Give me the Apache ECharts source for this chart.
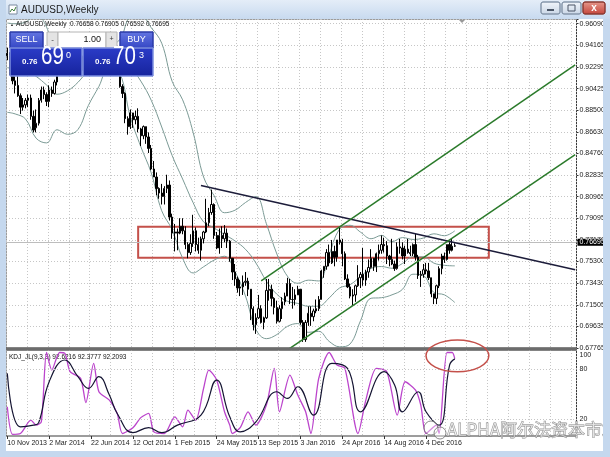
<!DOCTYPE html>
<html><head><meta charset="utf-8">
<script src="https://cdn.jsdelivr.net/npm/echarts@6/dist/echarts.min.js"></script>
<style>html,body{margin:0;padding:0;background:#fff}#c{width:610px;height:457px}</style>
</head><body><div id="c"></div>
<script>
// ---------- categories (weekly bars, incl. empty future weeks on the right) ----------
const monthNames = ['Jan','Feb','Mar','Apr','May','Jun','Jul','Aug','Sep','Oct','Nov','Dec'];
const firstWeek = Date.UTC(2013, 10, 10);   // 10 Nov 2013
const weekCount = 218;
const categories = [];
for (let i = 0; i < weekCount; i++) {
  const d = new Date(firstWeek + i * 7 * 864e5);
  categories.push(d.getUTCDate() + ' ' + monthNames[d.getUTCMonth()] + ' ' + d.getUTCFullYear());
}

// ---------- weekly AUDUSD bars: [open, high, low, close] ----------
const bars = [
[0.9350,0.9400,0.9290,0.9330],[0.9330,0.9360,0.9160,0.9190],[0.9190,0.9210,0.9080,0.9110],[0.9110,0.9150,0.9000,0.9070],
[0.9070,0.9170,0.8970,0.8980],[0.8980,0.9000,0.8820,0.8880],[0.8880,0.8960,0.8850,0.8900],[0.8900,0.8960,0.8870,0.8940],
[0.8940,0.8990,0.8880,0.8960],[0.8960,0.8990,0.8770,0.8800],[0.8800,0.8850,0.8660,0.8680],[0.8700,0.8860,0.8660,0.8740],
[0.8740,0.8960,0.8720,0.8940],[0.8940,0.9060,0.8920,0.9030],[0.9030,0.9060,0.8950,0.8990],[0.8990,0.9010,0.8890,0.8930],
[0.8930,0.9070,0.8880,0.9030],[0.9030,0.9060,0.8970,0.9000],[0.9000,0.9120,0.8990,0.9100],[0.9100,0.9280,0.9070,0.9260],
[0.9260,0.9320,0.9200,0.9280],[0.9280,0.9460,0.9270,0.9400],[0.9400,0.9430,0.9320,0.9330],[0.9330,0.9390,0.9270,0.9280],
[0.9280,0.9350,0.9230,0.9290],[0.9290,0.9400,0.9270,0.9370],[0.9370,0.9380,0.9260,0.9290],[0.9290,0.9300,0.9200,0.9240],
[0.9240,0.9310,0.9220,0.9300],[0.9300,0.9330,0.9200,0.9320],[0.9320,0.9440,0.9290,0.9340],[0.9340,0.9400,0.9320,0.9390],
[0.9390,0.9450,0.9350,0.9420],[0.9420,0.9500,0.9330,0.9380],[0.9380,0.9400,0.9330,0.9350],[0.9350,0.9420,0.9320,0.9400],
[0.9400,0.9440,0.9360,0.9380],[0.9380,0.9390,0.9290,0.9310],[0.9310,0.9330,0.9240,0.9310],[0.9310,0.9350,0.9280,0.9320],
[0.9320,0.9350,0.9280,0.9300],[0.9300,0.9370,0.9290,0.9340],[0.9340,0.9400,0.9300,0.9370],[0.9370,0.9380,0.9050,0.9060],
[0.9060,0.9080,0.8960,0.9000],[0.9000,0.9010,0.8740,0.8780],[0.8780,0.8800,0.8640,0.8710],[0.8710,0.8860,0.8690,0.8830],
[0.8830,0.8830,0.8700,0.8770],[0.8770,0.8850,0.8730,0.8800],[0.8800,0.8870,0.8660,0.8690],[0.8690,0.8700,0.8540,0.8630],
[0.8630,0.8720,0.8600,0.8710],[0.8710,0.8710,0.8560,0.8620],[0.8620,0.8660,0.8480,0.8520],[0.8520,0.8550,0.8330,0.8340],
[0.8340,0.8410,0.8270,0.8270],[0.8270,0.8310,0.8110,0.8170],[0.8170,0.8180,0.8080,0.8130],[0.8130,0.8210,0.8030,0.8100],
[0.8100,0.8190,0.8030,0.8170],[0.8170,0.8290,0.8130,0.8200],[0.8200,0.8240,0.7890,0.7920],[0.7920,0.7950,0.7730,0.7780],
[0.7780,0.7860,0.7620,0.7790],[0.7790,0.7820,0.7630,0.7780],[0.7780,0.7910,0.7770,0.7840],[0.7840,0.7910,0.7770,0.7800],
[0.7800,0.7840,0.7640,0.7680],[0.7680,0.7700,0.7560,0.7610],[0.7610,0.7770,0.7590,0.7690],[0.7690,0.7940,0.7660,0.7800],
[0.7800,0.7830,0.7620,0.7680],[0.7680,0.7740,0.7600,0.7630],[0.7630,0.7750,0.7540,0.7730],[0.7730,0.7800,0.7690,0.7790],
[0.7790,0.8080,0.7780,0.7870],[0.7870,0.8000,0.7840,0.7960],[0.7960,0.8160,0.7940,0.8030],[0.8030,0.8040,0.7730,0.7760],
[0.7760,0.7790,0.7640,0.7650],[0.7650,0.7820,0.7600,0.7760],[0.7760,0.7840,0.7650,0.7730],[0.7730,0.7850,0.7700,0.7780],
[0.7780,0.7820,0.7650,0.7710],[0.7710,0.7720,0.7530,0.7560],[0.7560,0.7560,0.7370,0.7440],[0.7440,0.7510,0.7320,0.7380],
[0.7380,0.7400,0.7260,0.7300],[0.7300,0.7370,0.7230,0.7310],[0.7310,0.7410,0.7240,0.7350],[0.7350,0.7440,0.7320,0.7360],
[0.7360,0.7390,0.7230,0.7290],[0.7290,0.7290,0.7020,0.7120],[0.7120,0.7140,0.6930,0.6980],[0.6980,0.7080,0.6900,0.7040],
[0.7040,0.7240,0.7030,0.7120],[0.7120,0.7150,0.6990,0.7000],[0.7000,0.7050,0.6940,0.7040],[0.7040,0.7380,0.7030,0.7280],
[0.7280,0.7380,0.7190,0.7290],[0.7290,0.7330,0.7140,0.7210],[0.7210,0.7220,0.7070,0.7130],[0.7130,0.7190,0.6990,0.7010],
[0.7010,0.7150,0.7000,0.7120],[0.7120,0.7220,0.7030,0.7180],[0.7180,0.7260,0.7150,0.7230],[0.7230,0.7390,0.7230,0.7340],
[0.7340,0.7380,0.7160,0.7200],[0.7200,0.7310,0.7120,0.7200],[0.7200,0.7290,0.7150,0.7240],[0.7240,0.7320,0.7240,0.7290],
[0.7290,0.7290,0.6980,0.7000],[0.7000,0.7020,0.6830,0.6850],[0.6850,0.7020,0.6830,0.7000],[0.7000,0.7140,0.6970,0.7080],
[0.7080,0.7140,0.6970,0.7050],[0.7050,0.7120,0.7010,0.7100],[0.7100,0.7200,0.7080,0.7120],[0.7120,0.7230,0.7100,0.7200],
[0.7200,0.7460,0.7200,0.7450],[0.7450,0.7490,0.7390,0.7490],[0.7490,0.7640,0.7460,0.7610],[0.7610,0.7680,0.7490,0.7520],
[0.7520,0.7720,0.7510,0.7620],[0.7620,0.7670,0.7490,0.7570],[0.7570,0.7720,0.7530,0.7720],[0.7720,0.7830,0.7680,0.7700],
[0.7700,0.7730,0.7490,0.7600],[0.7600,0.7620,0.7370,0.7380],[0.7380,0.7420,0.7300,0.7310],[0.7310,0.7340,0.7210,0.7230],
[0.7230,0.7290,0.7150,0.7240],[0.7240,0.7330,0.7180,0.7320],[0.7320,0.7500,0.7310,0.7390],[0.7390,0.7440,0.7300,0.7420],
[0.7420,0.7650,0.7320,0.7370],[0.7370,0.7460,0.7320,0.7440],[0.7440,0.7550,0.7390,0.7480],[0.7480,0.7640,0.7470,0.7560],
[0.7560,0.7560,0.7450,0.7490],[0.7490,0.7610,0.7440,0.7600],[0.7600,0.7680,0.7540,0.7630],[0.7630,0.7760,0.7600,0.7680],
[0.7680,0.7740,0.7610,0.7670],[0.7670,0.7710,0.7510,0.7580],[0.7580,0.7590,0.7490,0.7550],[0.7550,0.7730,0.7500,0.7510],
[0.7510,0.7540,0.7450,0.7470],[0.7470,0.7700,0.7460,0.7660],[0.7660,0.7730,0.7600,0.7650],[0.7650,0.7700,0.7550,0.7580],
[0.7580,0.7670,0.7510,0.7640],[0.7640,0.7730,0.7600,0.7610],[0.7610,0.7670,0.7580,0.7600],[0.7600,0.7690,0.7580,0.7680],
[0.7680,0.7775,0.7540,0.7570],[0.7570,0.7590,0.7380,0.7410],[0.7410,0.7450,0.7310,0.7420],[0.7420,0.7510,0.7390,0.7460],
[0.7460,0.7520,0.7420,0.7450],[0.7450,0.7520,0.7370,0.7390],[0.7390,0.7390,0.7220,0.7250],[0.7250,0.7250,0.7160,0.7210],
[0.7210,0.7330,0.7160,0.7320],[0.7320,0.7490,0.7300,0.7470],[0.7470,0.7600,0.7420,0.7580],[0.7580,0.7610,0.7520,0.7550],
[0.7550,0.7680,0.7540,0.7680],[0.7680,0.7700,0.7600,0.7630],[0.7630,0.7730,0.7620,0.76658],[0.76658,0.76905,0.76592,0.76695]
];

// ---------- Bollinger bands: [week index, value] ----------
const bandUpper = [[0,0.9615],[3,0.9609],[7,0.9624],[11,0.9689],[15,0.9580],[19,0.9303],[23,0.9403],[27,0.9509],[31,0.9516],[35,0.9517],[39,0.9433],[43,0.9470],[47,0.9667],[51,0.9680],[55,0.9574],[59,0.9439],[63,0.9105],[67,0.8944],[71,0.8660],[75,0.8270],[79,0.8108],[83,0.7958],[87,0.7980],[91,0.8047],[95,0.8099],[99,0.7862],[103,0.7598],[107,0.7405],[111,0.7342],[115,0.7369],[119,0.7362],[123,0.7594],[127,0.7815],[131,0.7848],[135,0.7788],[139,0.7731],[143,0.7760],[147,0.7705],[151,0.7741],[155,0.7725],[159,0.7737],[163,0.7774],[167,0.7757],[171,0.7800]];
const bandMiddle = [[0,0.9225],[3,0.9215],[7,0.9200],[11,0.9149],[15,0.9074],[19,0.8993],[23,0.9023],[27,0.9097],[31,0.9206],[35,0.9289],[39,0.9335],[43,0.9324],[47,0.9231],[51,0.9108],[55,0.8940],[59,0.8707],[63,0.8457],[67,0.8252],[71,0.8046],[75,0.7878],[79,0.7826],[83,0.7768],[87,0.7712],[91,0.7639],[95,0.7519],[99,0.7360],[103,0.7246],[107,0.7185],[111,0.7166],[115,0.7141],[119,0.7142],[123,0.7214],[127,0.7301],[131,0.7330],[135,0.7402],[139,0.7471],[143,0.7488],[147,0.7473],[151,0.7515],[155,0.7573],[159,0.7573],[163,0.7518],[167,0.7499],[171,0.7494]];
const bandLower = [[0,0.8835],[3,0.8821],[7,0.8776],[11,0.8609],[15,0.8568],[19,0.8683],[23,0.8643],[27,0.8685],[31,0.8896],[35,0.9061],[39,0.9237],[43,0.9178],[47,0.8795],[51,0.8536],[55,0.8306],[59,0.7975],[63,0.7809],[67,0.7560],[71,0.7432],[75,0.7486],[79,0.7544],[83,0.7578],[87,0.7444],[91,0.7231],[95,0.6939],[99,0.6858],[103,0.6894],[107,0.6965],[111,0.6990],[115,0.6913],[119,0.6922],[123,0.6834],[127,0.6787],[131,0.6812],[135,0.7016],[139,0.7211],[143,0.7216],[147,0.7241],[151,0.7289],[155,0.7421],[159,0.7409],[163,0.7262],[167,0.7241],[171,0.7174]];

// ---------- KDJ (lower panel): [week index, value] ----------
const kdjFast = [[0,35],[2,2],[5,3],[9,19],[11,13],[13,17],[15,100],[17,79],[20,100],[22,99],[24,77],[28,69],[30,40],[33,87],[35,53],[39,43],[42,27],[44,3],[48,10],[51,22],[54,27],[56,5],[60,3],[64,23],[67,11],[69,31],[72,19],[75,57],[77,79],[80,67],[83,29],[85,13],[86,3],[89,10],[92,29],[95,13],[99,37],[102,81],[104,29],[108,73],[111,49],[114,29],[116,3],[119,69],[123,100],[126,85],[129,81],[134,3],[137,43],[141,81],[145,77],[149,25],[152,65],[156,55],[158,37],[160,3],[164,13],[165,3],[168,100],[170,100],[171,92.62]];
const kdjSlow = [[0,75],[5,11],[10,13],[12,16],[16,65],[22,91],[27,71],[31,57],[35,71],[39,49],[42,27],[48,4],[54,10],[59,4],[65,13],[74,25],[80,67],[85,23],[89,5],[95,17],[103,53],[107,45],[111,59],[117,25],[124,87],[130,81],[135,29],[144,77],[148,61],[151,29],[157,53],[160,29],[165,13],[169,85],[171,92.38]];
const kdjLevels = [80, 20];

// ---------- annotations (in data units) ----------
const currentPrice = 0.76695;
const resistanceBox = [[50, 0.7836], [184, 0.7565]];
const downTrend = [[74, 0.8196], [217, 0.7460]];
const channelUpper = [[97, 0.7362], [217, 0.9249]];
const channelLower = [[104, 0.6712], [217, 0.8466]];
const ringCenter = [172, 96];
const ringEdge = [160, 115];

// ---------- tick labels ----------
const priceTicks = ['0.67765','0.69635','0.71505','0.73430','0.75300','0.77170','0.79095','0.80965','0.82835','0.84760','0.86630','0.88500','0.90425','0.92295','0.94165','0.96090'];
const kdjTicks = [100, 80, 20];

const priceLow = +priceTicks[0];
const priceStep = (+priceTicks[priceTicks.length - 1] - priceLow) / (priceTicks.length - 1);
const priceHigh = 0.96502;
const lastBar = bars.length - 1;

const dots = {color: '#c6c6c6', type: [1, 2], width: 1};
const every8 = (i) => i % 8 === 0;
const every16 = (i) => i % 16 === 0 && i <= lastBar;
const axisFont = {fontSize: 7, color: '#222', fontFamily: 'Liberation Sans'};

const chart = echarts.init(document.getElementById('c'), null, {renderer: 'canvas'});

const blueBtn = () => new echarts.graphic.LinearGradient(0,0,0,1,[{offset:0,color:'#6476e2'},{offset:1,color:'#3446c4'}]);
const blueBox = () => new echarts.graphic.LinearGradient(0,0,0,1,[{offset:0,color:'#2b3cc8'},{offset:1,color:'#16239c'}]);
const greyBtn = () => new echarts.graphic.LinearGradient(0,0,0,1,[{offset:0,color:'#f2f6fb'},{offset:1,color:'#c9d6e6'}]);

const elements = [
  // window chrome
  {type:'rect', z:100, shape:{x:0,y:0,width:610,height:19}, style:{fill:new echarts.graphic.LinearGradient(0,0,0,1,[{offset:0,color:'#e4edf8'},{offset:1,color:'#c8daef'}])}},
  {type:'rect', z:100, shape:{x:0,y:0,width:6,height:457}, style:{fill:'#c5d8ee'}},
  {type:'rect', z:100, shape:{x:603,y:19,width:7,height:438}, style:{fill:'#c5d8ee'}},
  {type:'rect', z:100, shape:{x:0,y:451,width:610,height:6}, style:{fill:'#c5d8ee'}},
  {type:'rect', z:101, shape:{x:9,y:5,width:8,height:9}, style:{fill:'#fff', stroke:'#7a8aa0', lineWidth:1}},
  {type:'polyline', z:102, shape:{points:[[10,12],[12,9],[14,11],[16,7]]}, style:{stroke:'#3a7a3a', lineWidth:1, fill:null}},
  {type:'text', z:101, style:{x:21, y:10, text:'AUDUSD,Weekly', fontSize:10, fontFamily:'Liberation Sans', fill:'#1b1b1b', verticalAlign:'middle'}},
  {type:'rect', z:101, shape:{x:541,y:2,width:19,height:12,r:2}, style:{fill:greyBtn(), stroke:'#8797ab', lineWidth:1}},
  {type:'rect', z:102, shape:{x:547,y:9,width:7,height:2}, style:{fill:'#4a5566'}},
  {type:'rect', z:101, shape:{x:562,y:2,width:19,height:12,r:2}, style:{fill:greyBtn(), stroke:'#8797ab', lineWidth:1}},
  {type:'rect', z:102, shape:{x:568,y:5,width:7,height:6}, style:{fill:'none', stroke:'#4a5566', lineWidth:1}},
  {type:'rect', z:101, shape:{x:583,y:2,width:22,height:12,r:2}, style:{fill:new echarts.graphic.LinearGradient(0,0,0,1,[{offset:0,color:'#e79a8e'},{offset:1,color:'#c4443a'}]), stroke:'#8b3a33', lineWidth:1}},
  {type:'text', z:102, style:{x:594, y:8.5, text:'x', fontSize:10, fontWeight:'bold', fontFamily:'Liberation Sans', fill:'#fff', align:'center', verticalAlign:'middle'}},
  // chart header line
  {type:'text', z:60, style:{x:10, y:24.5, text:'▲', fontSize:4, fill:'#333', verticalAlign:'middle'}},
  {type:'text', z:60, style:{x:16, y:24.5, text:'AUDUSD,Weekly  0.76658 0.76905 0.76592 0.76695', fontSize:6.5, fontFamily:'Liberation Sans', fill:'#111', verticalAlign:'middle'}},
  {type:'polygon', z:60, shape:{points:[[459,20],[465,20],[462,23]]}, style:{fill:'#999'}},
  // one-click trading panel
  {type:'rect', z:60, shape:{x:10,y:32,width:33,height:16}, style:{fill:blueBtn(), stroke:'#2a3aa8', lineWidth:1}},
  {type:'text', z:61, style:{x:26.5, y:40, text:'SELL', fontSize:9, fontFamily:'Liberation Sans', fill:'#fff', align:'center', verticalAlign:'middle'}},
  {type:'rect', z:60, shape:{x:47,y:32,width:11,height:16}, style:{fill:'#e4e4e4', stroke:'#b4b4b4', lineWidth:1}},
  {type:'text', z:61, style:{x:52.5, y:39.5, text:'-', fontSize:8, fontFamily:'Liberation Sans', fill:'#333', align:'center', verticalAlign:'middle'}},
  {type:'rect', z:60, shape:{x:58,y:32,width:48,height:16}, style:{fill:'#fff', stroke:'#b4b4b4', lineWidth:1}},
  {type:'text', z:61, style:{x:101, y:40, text:'1.00', fontSize:9, fontFamily:'Liberation Sans', fill:'#111', align:'right', verticalAlign:'middle'}},
  {type:'rect', z:60, shape:{x:106,y:32,width:11,height:16}, style:{fill:'#e4e4e4', stroke:'#b4b4b4', lineWidth:1}},
  {type:'text', z:61, style:{x:111.5, y:39.5, text:'+', fontSize:7, fontFamily:'Liberation Sans', fill:'#333', align:'center', verticalAlign:'middle'}},
  {type:'rect', z:60, shape:{x:120,y:32,width:33,height:16}, style:{fill:blueBtn(), stroke:'#2a3aa8', lineWidth:1}},
  {type:'text', z:61, style:{x:136.5, y:40, text:'BUY', fontSize:9, fontFamily:'Liberation Sans', fill:'#fff', align:'center', verticalAlign:'middle'}},
  {type:'rect', z:60, shape:{x:10,y:48,width:72,height:28}, style:{fill:blueBox(), stroke:'#7d8fe0', lineWidth:1}},
  {type:'text', z:61, style:{x:22, y:66, text:'0.76', fontSize:8, fontWeight:'bold', fontFamily:'Liberation Sans', fill:'#fff', verticalAlign:'bottom'}},
  {type:'text', z:61, x:41, y:70, scaleX:0.82, style:{x:0, y:0, text:'69', fontSize:25, fontFamily:'Liberation Sans', fill:'#fff', verticalAlign:'bottom'}},
  {type:'text', z:61, style:{x:66, y:55.5, text:'0', fontSize:9, fontFamily:'Liberation Sans', fill:'#fff', verticalAlign:'middle'}},
  {type:'rect', z:60, shape:{x:83,y:48,width:70,height:28}, style:{fill:blueBox(), stroke:'#7d8fe0', lineWidth:1}},
  {type:'text', z:61, style:{x:95, y:66, text:'0.76', fontSize:8, fontWeight:'bold', fontFamily:'Liberation Sans', fill:'#fff', verticalAlign:'bottom'}},
  {type:'text', z:61, x:113, y:70, scaleX:0.82, style:{x:0, y:0, text:'70', fontSize:25, fontFamily:'Liberation Sans', fill:'#fff', verticalAlign:'bottom'}},
  {type:'text', z:61, style:{x:139, y:55.5, text:'3', fontSize:9, fontFamily:'Liberation Sans', fill:'#fff', verticalAlign:'middle'}},
  // panel separator
  {type:'rect', z:40, shape:{x:6,y:347.5,width:571,height:3}, style:{fill:'#6c6c6c'}},
  // indicator caption
  {type:'text', z:1, style:{x:9, y:357, text:'KDJ_JL(9,3,3) 92.6216 92.3777 92.2093', fontSize:6.5, fontFamily:'Liberation Sans', fill:'#111', verticalAlign:'middle'}},
  // watermark
  {type:'circle', z:70, shape:{cx:431,cy:428,r:7}, style:{fill:'rgba(255,255,255,0.4)', stroke:'rgba(110,110,110,0.8)', lineWidth:1}},
  {type:'circle', z:70, shape:{cx:440,cy:433,r:6}, style:{fill:'rgba(255,255,255,0.4)', stroke:'rgba(110,110,110,0.8)', lineWidth:1}},
  {type:'text', z:70, style:{x:447, y:430, text:'ALPHA阿尔法资本市场', fontSize:17, fontFamily:'Noto Sans CJK SC', fill:'rgba(255,255,255,0.55)', stroke:'rgba(115,115,115,0.85)', lineWidth:0.8, verticalAlign:'middle'}}
];

const option = {
  backgroundColor: '#ffffff',
  animation: false,
  grid: [
    {left: 6, right: 33.5, top: 19, height: 329, show: true, borderColor: '#3a3a3a', borderWidth: 1, backgroundColor: 'transparent'},
    {left: 6, right: 33.5, top: 350, height: 86, show: true, borderColor: '#3a3a3a', borderWidth: 1, backgroundColor: 'transparent'}
  ],
  xAxis: [
    {type: 'category', gridIndex: 0, data: categories, boundaryGap: true,
     axisLine: {show: false}, axisTick: {show: false}, axisLabel: {show: false},
     splitLine: {show: true, interval: every8, lineStyle: dots}},
    {type: 'category', gridIndex: 1, data: categories, boundaryGap: true,
     axisLine: {show: false},
     axisTick: {show: true, interval: every16, alignWithLabel: true, length: 3, lineStyle: {color: '#333'}},
     axisLabel: Object.assign({interval: every16, align: 'left', margin: 4}, axisFont),
     splitLine: {show: true, interval: every8, lineStyle: dots}}
  ],
  yAxis: [
    {type: 'value', gridIndex: 0, min: priceLow, max: priceHigh, show: false},
    {type: 'value', gridIndex: 0, position: 'right', min: 0, max: (priceHigh - priceLow) / priceStep, interval: 1,
     axisLine: {show: false}, axisTick: {show: true, length: 2, lineStyle: {color: '#333'}},
     axisLabel: Object.assign({margin: 3, formatter: (v) => { const k = Math.round(v); return Math.abs(v - k) < 1e-6 ? (priceTicks[k] || '') : ''; }}, axisFont),
     splitLine: {show: true, lineStyle: dots}},
    {type: 'value', gridIndex: 1, position: 'right', min: 0, max: 103, interval: 20,
     axisLine: {show: false}, axisTick: {show: false},
     axisLabel: Object.assign({margin: 3, formatter: (v) => kdjTicks.indexOf(v) >= 0 ? (v === 100 ? '{low|100}' : String(v)) : '',
       rich: {low: {fontSize: 7, color: '#222', fontFamily: 'Liberation Sans', padding: [5, 0, 0, 0]}}}, axisFont),
     splitLine: {show: false}}
  ],
  series: [
    {type: 'line', name: 'BB upper', xAxisIndex: 0, yAxisIndex: 0, data: bandUpper, smooth: 0.4, showSymbol: false, z: 1,
     lineStyle: {color: '#7b9a95', width: 1}},
    {type: 'line', name: 'BB middle', xAxisIndex: 0, yAxisIndex: 0, data: bandMiddle, smooth: 0.4, showSymbol: false, z: 1,
     lineStyle: {color: '#7b9a95', width: 1}},
    {type: 'line', name: 'BB lower', xAxisIndex: 0, yAxisIndex: 0, data: bandLower, smooth: 0.4, showSymbol: false, z: 1,
     lineStyle: {color: '#7b9a95', width: 1}},
    {type: 'candlestick', name: 'AUDUSD', xAxisIndex: 0, yAxisIndex: 0, z: 3, barWidth: 1.8,
     data: bars.map(b => [b[0], b[3], b[2], b[1]]),
     itemStyle: {color: '#ffffff', color0: '#000000', borderColor: '#000000', borderColor0: '#000000', borderWidth: 1},
     markLine: {silent: true, symbol: ['none', 'none'], z: 2,
       lineStyle: {color: '#bdbdbd', type: 'solid', width: 1},
       label: {show: true, position: 'end', distance: 1, formatter: currentPrice.toFixed(5), color: '#fff', backgroundColor: '#000', fontSize: 7, fontFamily: 'Liberation Sans', padding: [0, 2, 0, 2]},
       data: [{yAxis: currentPrice}]},
     markArea: {silent: true,
       itemStyle: {color: 'rgba(0,0,0,0)', borderColor: '#c4504a', borderWidth: 2},
       data: [[{xAxis: resistanceBox[0][0], yAxis: resistanceBox[0][1]}, {xAxis: resistanceBox[1][0], yAxis: resistanceBox[1][1]}]]}},
    {type: 'line', name: 'Down trend', xAxisIndex: 0, yAxisIndex: 0, data: downTrend, showSymbol: false, z: 5,
     lineStyle: {color: '#1c1c3a', width: 1.5}},
    {type: 'line', name: 'Channel upper', xAxisIndex: 0, yAxisIndex: 0, data: channelUpper, showSymbol: false, z: 5,
     lineStyle: {color: '#2a7a2a', width: 1.5}},
    {type: 'line', name: 'Channel lower', xAxisIndex: 0, yAxisIndex: 0, data: channelLower, showSymbol: false, z: 5,
     lineStyle: {color: '#2a7a2a', width: 1.5}},
    {type: 'line', name: 'KDJ fast', xAxisIndex: 1, yAxisIndex: 2, data: kdjFast, smooth: 0.25, showSymbol: false, z: 3,
     lineStyle: {color: '#bb44cc', width: 1.3},
     markLine: {silent: true, symbol: ['none', 'none'], label: {show: false}, lineStyle: dots,
       data: kdjLevels.map(v => ({yAxis: v}))}},
    {type: 'line', name: 'KDJ slow', xAxisIndex: 1, yAxisIndex: 2, data: kdjSlow, smooth: 0.45, showSymbol: false, z: 4,
     lineStyle: {color: '#141432', width: 1.2}}
  ],
  graphic: {elements: elements}
};

chart.setOption(option);

// ellipse around the overbought KDJ reading, positioned through the axes
const kdjSeriesIndex = 7;
const pc = chart.convertToPixel({seriesIndex: kdjSeriesIndex}, ringCenter);
const pe = chart.convertToPixel({seriesIndex: kdjSeriesIndex}, ringEdge);
if (pc && pe) {
  elements.push({type: 'ellipse', z: 80,
    shape: {cx: pc[0], cy: pc[1], rx: Math.abs(pc[0] - pe[0]), ry: Math.abs(pc[1] - pe[1])},
    style: {fill: 'none', stroke: '#c4504a', lineWidth: 1.5}});
  chart.setOption({graphic: {elements: elements}});
}
</script>
</body></html>
